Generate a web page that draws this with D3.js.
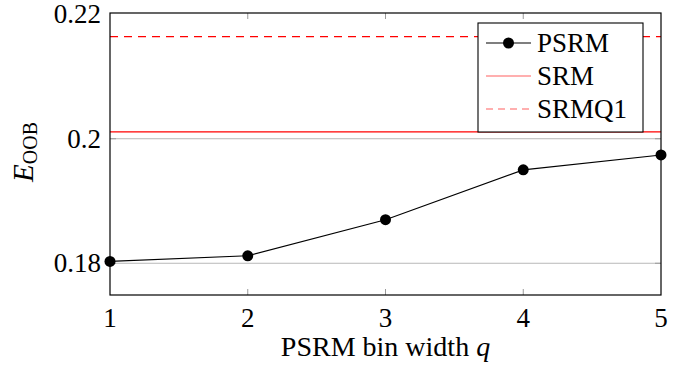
<!DOCTYPE html>
<html>
<head>
<meta charset="utf-8">
<script src="https://cdn.jsdelivr.net/npm/d3@7"></script>
</head>
<body style="margin:0">
<svg width="686" height="366" font-family="Liberation Serif"></svg>
<script>
const binWidth = [1, 2, 3, 4, 5];
const psrm = [0.1803, 0.1812, 0.1870, 0.1950, 0.1974];
const srm = 0.2011;
const srmQ1 = 0.2164;
const yTicks = [0.18, 0.2, 0.22];
const legendNames = ["PSRM", "SRM", "SRMQ1"];

const fontName = "Liberation Serif";
const fs = 27;

const svg = d3.select("svg");
svg.append("rect").attr("width", 686).attr("height", 366).attr("fill", "#fff");
const margin = {top: 13, right: 25, bottom: 71, left: 110};
const w = 686 - margin.left - margin.right;
const h = 366 - margin.top - margin.bottom;

const x = d3.scaleLinear().domain([1, 5]).range([0, w]);
const y = d3.scaleLinear().domain([0.1749, 0.2202]).range([h, 0]);

const g = svg.append("g").attr("transform", `translate(${margin.left},${margin.top})`);

// grid
g.selectAll("line.grid").data(yTicks.filter(d => d < 0.22)).enter().append("line")
  .attr("x1", 0).attr("x2", w)
  .attr("y1", d => y(d)).attr("y2", d => y(d))
  .attr("stroke", "#b8b8b8").attr("stroke-width", 1);

// inner ticks
const tl = 6;
[2, 3, 4].forEach(v => {
  g.append("line").attr("x1", x(v)).attr("x2", x(v)).attr("y1", h).attr("y2", h - tl)
    .attr("stroke", "#999");
  g.append("line").attr("x1", x(v)).attr("x2", x(v)).attr("y1", 0).attr("y2", tl)
    .attr("stroke", "#999");
});
yTicks.filter(d => d < 0.22).forEach(v => {
  g.append("line").attr("x1", 0).attr("x2", tl).attr("y1", y(v)).attr("y2", y(v)).attr("stroke", "#999");
  g.append("line").attr("x1", w).attr("x2", w - tl).attr("y1", y(v)).attr("y2", y(v)).attr("stroke", "#999");
});

// reference lines
g.append("line").attr("x1", 0).attr("x2", w).attr("y1", y(srm)).attr("y2", y(srm))
  .attr("stroke", "#ff0000").attr("stroke-width", 1.3);
g.append("line").attr("x1", 0).attr("x2", w).attr("y1", y(srmQ1)).attr("y2", y(srmQ1))
  .attr("stroke", "#ff0000").attr("stroke-width", 1.1).attr("stroke-dasharray", "8,6");

// PSRM line
const pts = binWidth.map((q, i) => ({q, v: psrm[i]}));
g.append("path").datum(pts)
  .attr("fill", "none").attr("stroke", "#000").attr("stroke-width", 1.1)
  .attr("d", d3.line().x(d => x(d.q)).y(d => y(d.v)));
g.selectAll("circle.pt").data(pts).enter().append("circle")
  .attr("cx", d => x(d.q)).attr("cy", d => y(d.v)).attr("r", 5.5).attr("fill", "#000");

// frame
g.append("rect").attr("width", w).attr("height", h)
  .attr("fill", "none").attr("stroke", "#000").attr("stroke-width", 1.2);

// tick labels
g.selectAll("text.xt").data(binWidth).enter().append("text")
  .attr("font-family", fontName).attr("font-size", fs)
  .attr("x", d => x(d)).attr("y", h + 32)
  .attr("text-anchor", "middle").text(d => d);
g.selectAll("text.yt").data(yTicks).enter().append("text")
  .attr("font-family", fontName).attr("font-size", fs)
  .attr("x", -9).attr("y", d => y(d)).attr("dy", "0.33em")
  .attr("text-anchor", "end").text(d => d3.format("")(d));

// axis labels
const xl = g.append("text").attr("font-family", fontName).attr("font-size", 28)
  .attr("x", w / 2).attr("y", h + 61).attr("text-anchor", "middle");
xl.append("tspan").text("PSRM bin width ");
xl.append("tspan").attr("font-style", "italic").text("q");

const yl = svg.append("text").attr("font-family", fontName).attr("font-size", 29)
  .attr("transform", "translate(33,152) rotate(-90)").attr("text-anchor", "middle");
yl.append("tspan").attr("font-style", "italic").text("E");
yl.append("tspan").attr("font-size", 20).attr("dy", 4).text("OOB");

// legend
const lg = svg.append("g").attr("transform", "translate(478,23)");
lg.append("rect").attr("width", 165).attr("height", 109)
  .attr("fill", "#fff").attr("stroke", "#000").attr("stroke-width", 1.1);
const rows = lg.selectAll("g.row").data(legendNames).enter().append("g")
  .attr("transform", (d, i) => `translate(0,${20 + i * 33})`);
rows.append("line").attr("x1", 8).attr("x2", 53).attr("y1", 0).attr("y2", 0)
  .attr("stroke", (d, i) => i === 0 ? "#000" : "#ff6060")
  .attr("stroke-width", 1.1)
  .attr("stroke-dasharray", (d, i) => i === 2 ? "7,5" : null);
rows.filter((d, i) => i === 0).append("circle").attr("cx", 30.5).attr("cy", 0).attr("r", 5.5).attr("fill", "#000");
rows.append("text").attr("font-family", fontName).attr("font-size", fs)
  .attr("x", 59).attr("dy", "0.33em").text(d => d);
</script>
</body>
</html>
